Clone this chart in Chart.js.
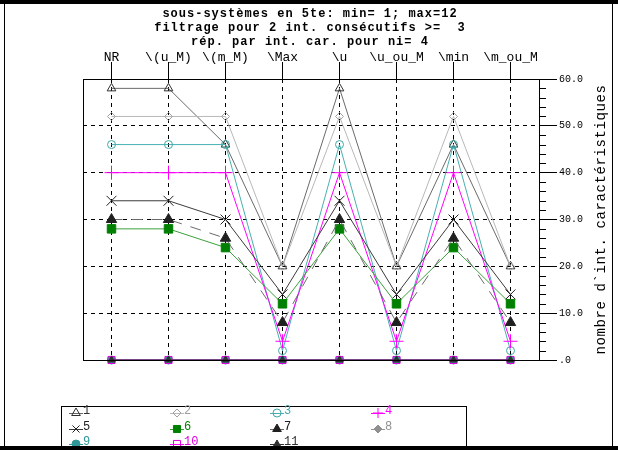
<!DOCTYPE html>
<html>
<head>
<meta charset="utf-8">
<script src="https://cdn.jsdelivr.net/npm/chart.js@4"></script>
<style>
  body { margin: 0; background: #fff; }
  #wrap { width: 618px; height: 450px; }
</style>
</head>
<body>
<div id="wrap"><canvas id="sousChart" width="618" height="450"></canvas></div>
<script>
// categories and values
const categories = ['NR', '\\(u_M)', '\\(m_M)', '\\Max', '\\u', '\\u_ou_M', '\\min', '\\m_ou_M'];
const titleLines = [
    'sous-systèmes en 5te: min= 1; max=12',
    'filtrage pour 2 int. consécutifs >=  3',
    'rép. par int. car. pour ni= 4'
];
const yTitle = "nombre d`int. caractéristiques";
const yTicks = [0, 10, 20, 30, 40, 50, 60];

const s1 = [58, 58, 46, 20, 58, 20, 46, 20];
const s2 = [52, 52, 52, 20, 52, 20, 52, 20];
const s3 = [46, 46, 46, 2, 46, 2, 46, 2];
const s4 = [40, 40, 40, 4, 40, 4, 40, 4];
const s5 = [34, 34, 30, 14, 34, 14, 30, 14];
const s6 = [28, 28, 24, 12, 28, 12, 24, 12];
const s7 = [30, 30, 26, 8, 30, 8, 26, 8];
const s8 = [0, 0, 0, 0, 0, 0, 0, 0];
const s9 = [0, 0, 0, 0, 0, 0, 0, 0];
const s10 = [0, 0, 0, 0, 0, 0, 0, 0];
const s11 = [0, 0, 0, 0, 0, 0, 0, 0];

const MONO = '"Liberation Mono", "DejaVu Sans Mono", monospace';

function series(label, data, line, mark, style, radius, filled, dash) {
    return {
        label: label,
        data: data,
        borderColor: line,
        borderWidth: 1,
        borderDash: dash || [],
        pointStyle: style,
        pointRadius: radius,
        pointBorderColor: mark,
        pointBackgroundColor: filled ? mark : 'rgba(0,0,0,0)',
        pointBorderWidth: 1,
        fill: false,
        tension: 0,
        clip: false
    };
}

const datasets = [
    series('1', s1, '#6a6a6a', '#303030', 'triangle', 5, false),
    series('2', s2, '#b8b8b8', '#a0a0a0', 'rectRot', 4, false),
    series('3', s3, '#48b0b0', '#40a8a8', 'circle', 4, false),
    series('4', s4, '#ff00ff', '#ff00ff', 'cross', 7, false),
    series('5', s5, '#3a3a3a', '#202020', 'crossRot', 7, false),
    series('6', s6, '#3aa03a', '#008000', 'rect', 6, true),
    series('7', s7, '#6a6a6a', '#202020', 'triangle', 6, true, [11, 9]),
    series('8', s8, '#909090', '#909090', 'rectRot', 4, true),
    series('9', s9, '#309898', '#309898', 'circle', 4, true),
    series('10', s10, '#ff00ff', '#e000e0', 'rect', 5, false),
    series('11', s11, '#303030', '#303030', 'triangle', 4, true)
];
// later series are drawn on top
datasets.forEach((d, i) => { d.order = datasets.length - i; });

const framePlugin = {
    id: 'frame',
    afterDraw(chart) {
        const ctx = chart.ctx;
        const a = chart.chartArea;
        const y = chart.scales.y;
        ctx.save();
        ctx.strokeStyle = '#000';
        ctx.lineWidth = 1;
        ctx.setLineDash([]);

        // plot frame: left, top, bottom, right axis
        ctx.beginPath();
        ctx.moveTo(Math.round(a.left) + 0.5, Math.round(a.top) + 0.5);
        ctx.lineTo(Math.round(a.left) + 0.5, Math.round(a.bottom) + 0.5);
        ctx.moveTo(Math.round(a.left), Math.round(a.top) + 0.5);
        ctx.lineTo(a.right + 18, Math.round(a.top) + 0.5);
        ctx.moveTo(Math.round(a.left), Math.round(a.bottom) + 0.5);
        ctx.lineTo(a.right + 18, Math.round(a.bottom) + 0.5);
        ctx.moveTo(Math.round(a.right) + 0.5, Math.round(a.top));
        ctx.lineTo(Math.round(a.right) + 0.5, Math.round(a.bottom) + 1);
        // minor ticks every 2
        for (let v = 0; v <= 60; v += 2) {
            if (v % 10 === 0) continue;
            const py = Math.round(y.getPixelForValue(v)) + 0.5;
            ctx.moveTo(a.right, py);
            ctx.lineTo(a.right + 7, py);
        }
        ctx.stroke();

        // title
        ctx.fillStyle = '#000';
        ctx.font = 'bold 12px ' + MONO;
        ctx.letterSpacing = '1px';
        ctx.textAlign = 'center';
        ctx.textBaseline = 'middle';
        titleLines.forEach((t, i) => ctx.fillText(t, 310, 14 + i * 14));

        // y axis title, reading bottom to top
        ctx.save();
        ctx.translate(601, (a.top + a.bottom) / 2);
        ctx.rotate(-Math.PI / 2);
        ctx.font = '14px ' + MONO;
        ctx.letterSpacing = '0.6px';
        ctx.fillText(yTitle, 0, 0);
        ctx.restore();
        ctx.letterSpacing = '0px';

        // legend box
        ctx.strokeRect(61.5, 406.5, 405, 60);
        const cols = [76, 177, 277, 378];
        const rows = [413, 429, 444];
        chart.data.datasets.forEach((d, i) => {
            const cx = cols[i % 4];
            const cy = rows[Math.floor(i / 4)];
            ctx.strokeStyle = d.borderColor;
            ctx.setLineDash([]);
            ctx.beginPath();
            ctx.moveTo(cx - 7, cy + 0.5);
            ctx.lineTo(cx + 7, cy + 0.5);
            ctx.stroke();
            ctx.strokeStyle = d.pointBorderColor;
            ctx.fillStyle = d.pointBackgroundColor;
            Chart.helpers.drawPoint(ctx, {
                pointStyle: d.pointStyle,
                radius: Math.min(d.pointRadius, 5),
                borderWidth: 1,
                rotation: 0
            }, cx, cy);
            ctx.fillStyle = d.pointBorderColor;
            ctx.font = '12px ' + MONO;
            ctx.textAlign = 'left';
            ctx.textBaseline = 'bottom';
            ctx.fillText(d.label, cx + 7, cy + 4);
        });

        // outer window border
        ctx.fillStyle = '#000';
        ctx.fillRect(0, 0, 618, 4);
        ctx.fillRect(0, 446, 618, 4);
        ctx.fillRect(4, 0, 1, 450);
        ctx.fillRect(612, 0, 1, 450);
        ctx.restore();
    }
};

const config = {
    type: 'line',
    data: { labels: categories, datasets: datasets },
    options: {
        responsive: false,
        animation: false,
        layout: { padding: { left: 83, top: 49, right: 9, bottom: 90 } },
        plugins: {
            legend: { display: false },
            title: { display: false },
            tooltip: { enabled: false }
        },
        scales: {
            x: {
                position: 'top',
                offset: true,
                grid: {
                    color: '#000',
                    lineWidth: 1,
                    drawTicks: true,
                    tickLength: 17,
                    tickBorderDash: []
                },
                border: { display: false, dash: [4, 4] },
                ticks: {
                    color: '#000',
                    font: { family: MONO, size: 13 },
                    padding: -3,
                    maxRotation: 0,
                    autoSkip: false
                },
                afterFit: function (scale) { scale.height = 30; }
            },
            y: {
                position: 'right',
                min: 0,
                max: 60,
                afterBuildTicks: function (scale) {
                    scale.ticks = yTicks.map(v => ({ value: v }));
                },
                grid: {
                    color: '#000',
                    lineWidth: 1,
                    drawTicks: true,
                    tickLength: 18,
                    tickBorderDash: []
                },
                border: { display: false, dash: [4, 4] },
                ticks: {
                    color: '#000',
                    font: { family: MONO, size: 10 },
                    padding: 2,
                    callback: function (v) { return v === 0 ? '.0' : v.toFixed(1); }
                },
                afterFit: function (scale) { scale.width = 70; }
            }
        }
    },
    plugins: [framePlugin]
};

new Chart(document.getElementById('sousChart').getContext('2d'), config);
</script>
</body>
</html>
